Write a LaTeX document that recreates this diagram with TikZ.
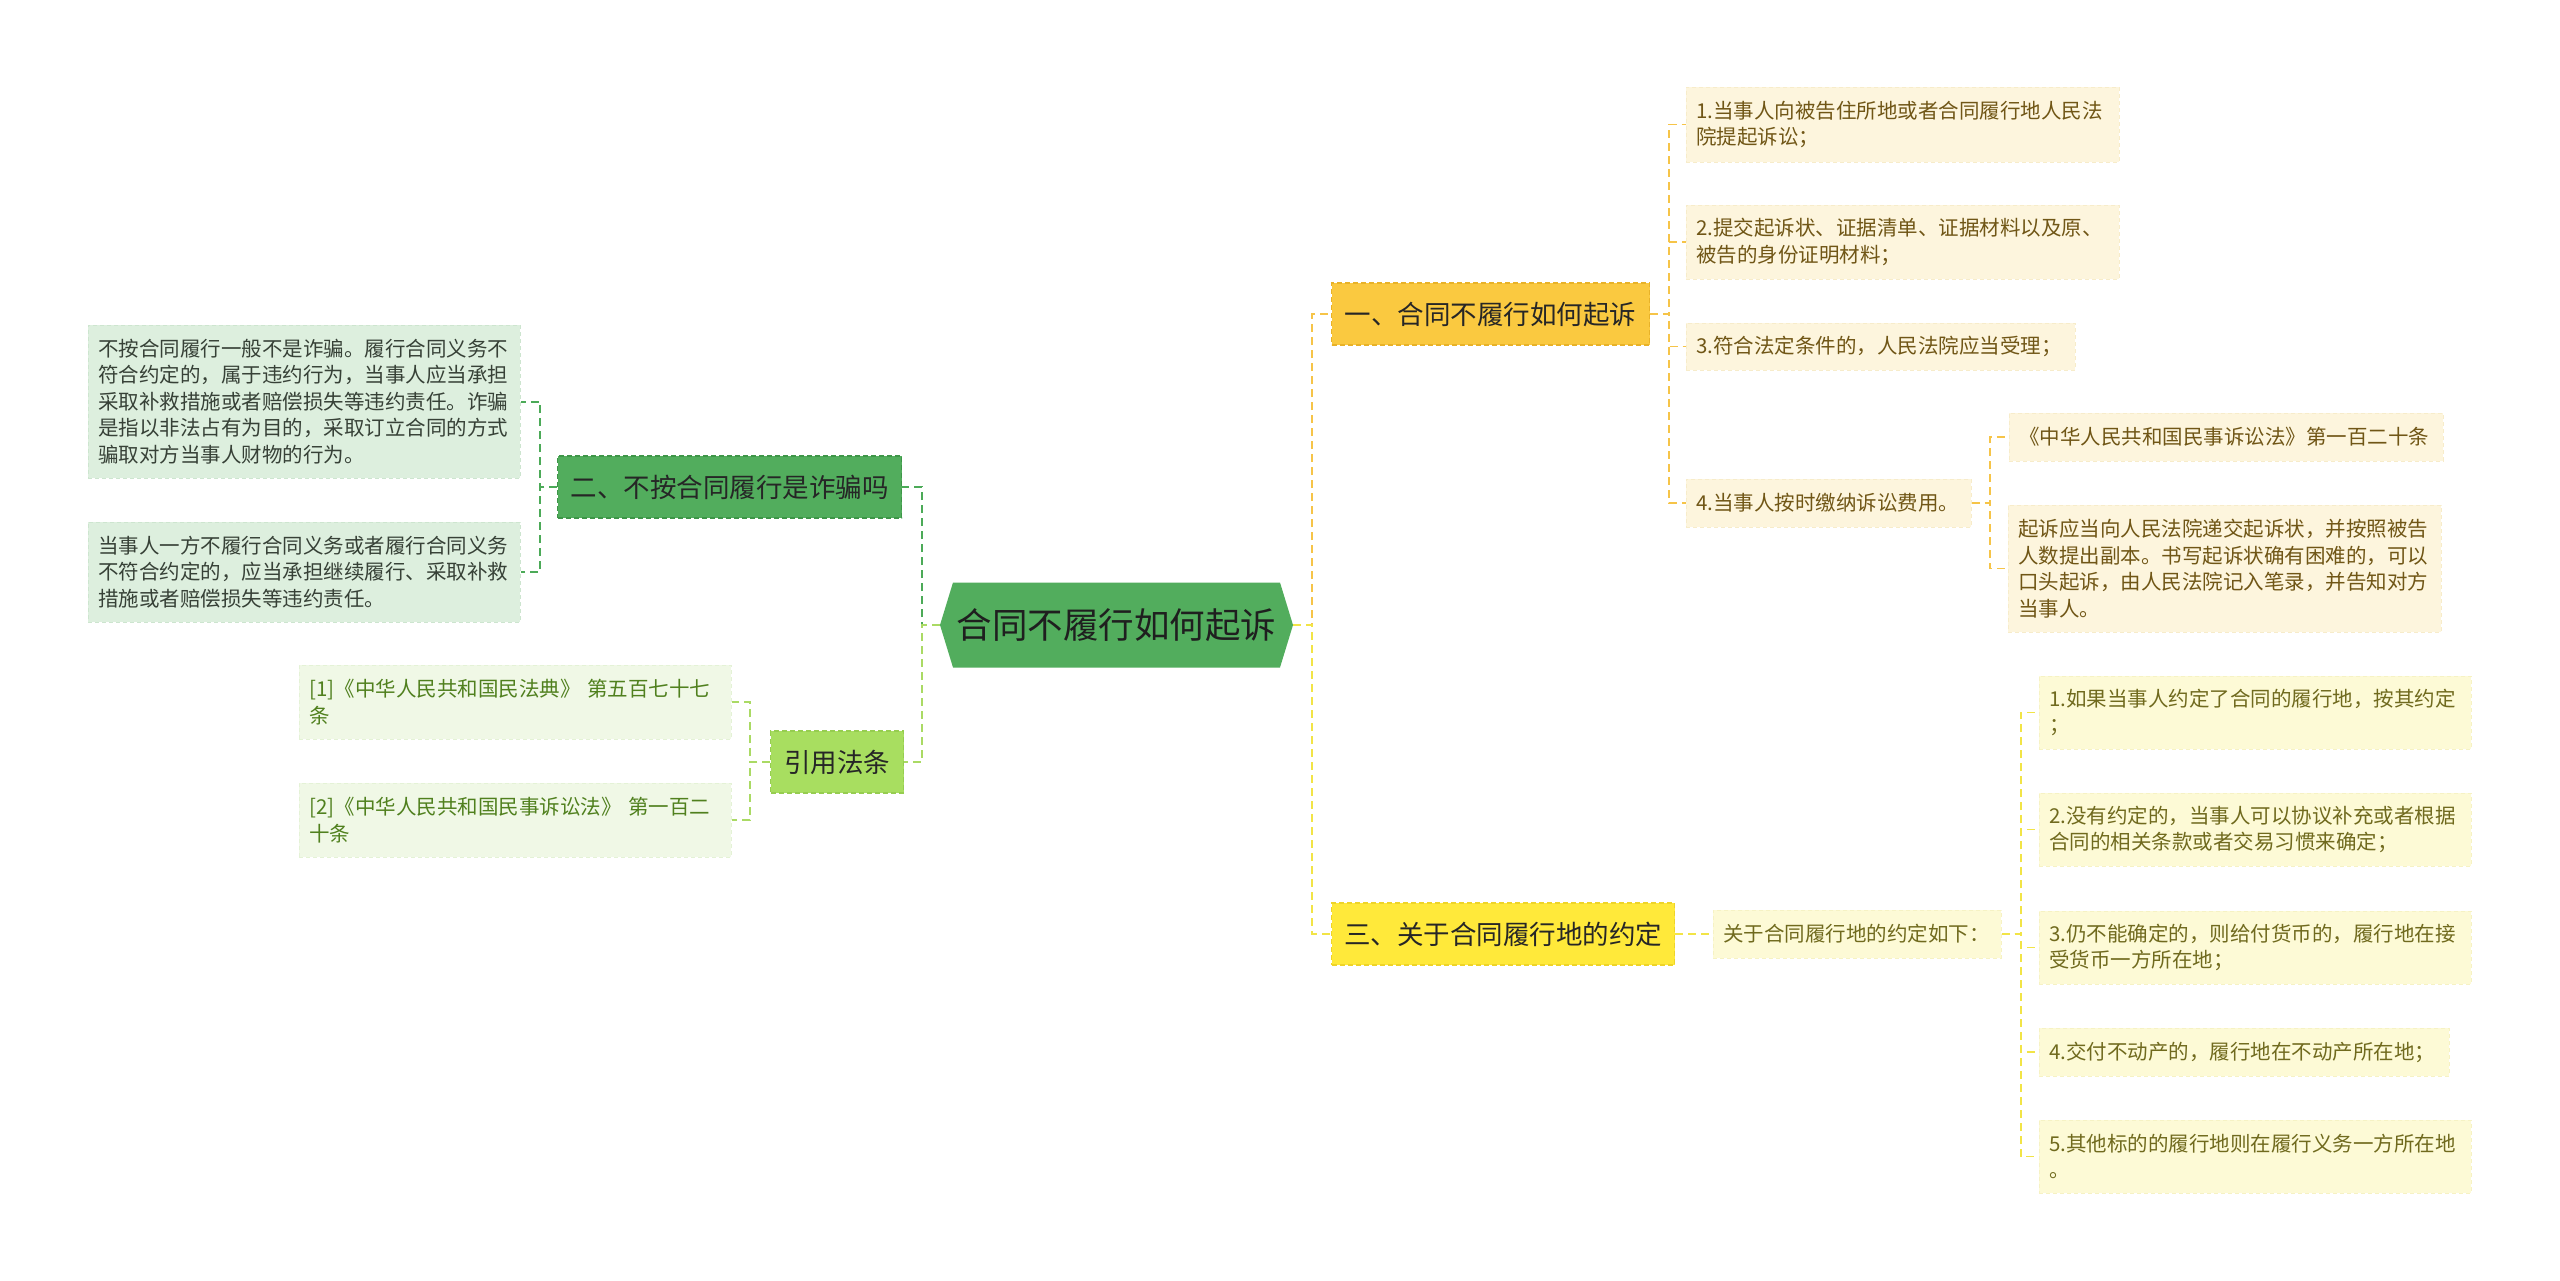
\documentclass[tikz,border=0pt]{standalone}
\usepackage{fontspec}
\setmainfont{Noto Sans CJK SC}
\usetikzlibrary{calc}
\definecolor{cgreen}{RGB}{82,173,93}
\definecolor{cgreenD}{RGB}{62,150,72}
\definecolor{lgF}{RGB}{221,239,222}
\definecolor{lgD}{RGB}{205,229,207}
\definecolor{lgT}{RGB}{55,65,55}
\definecolor{limeF}{RGB}{168,222,96}
\definecolor{limeD}{RGB}{150,205,80}
\definecolor{limeL}{RGB}{240,248,230}
\definecolor{limeLD}{RGB}{228,242,214}
\definecolor{limeT}{RGB}{80,128,30}
\definecolor{orF}{RGB}{250,201,64}
\definecolor{orD}{RGB}{232,178,40}
\definecolor{crF}{RGB}{253,245,221}
\definecolor{crD}{RGB}{247,236,202}
\definecolor{brT}{RGB}{112,86,22}
\definecolor{yeF}{RGB}{255,233,58}
\definecolor{yeD}{RGB}{238,212,40}
\definecolor{ylF}{RGB}{253,250,214}
\definecolor{ylD}{RGB}{246,242,196}
\definecolor{olT}{RGB}{112,106,30}
\definecolor{lnG}{RGB}{76,170,88}
\definecolor{lnL}{RGB}{170,218,100}
\definecolor{lnO}{RGB}{246,196,72}
\definecolor{lnY}{RGB}{242,228,70}
\tikzset{
  leaf/.style={anchor=west, align=left, inner xsep=10pt, inner ysep=0pt,
    font=\fontsize{20.5}{26.5}\selectfont, line width=0.8pt, dash pattern=on 4pt off 3pt},
  leafG/.style={leaf, fill=lgF, draw=lgD, text=lgT},
  leafL/.style={leaf, fill=limeL, draw=limeLD, text=limeT},
  leafC/.style={leaf, fill=crF, draw=crD, text=brT},
  leafY/.style={leaf, fill=ylF, draw=ylD, text=olT},
  topic/.style={anchor=west, align=center, inner sep=0pt, minimum height=62pt,
    font=\fontsize{26.5}{32}\selectfont, text=black!85, line width=1.2pt, dash pattern=on 5pt off 3pt},
  con/.style={line width=2pt, dash pattern=on 8pt off 5pt},
  conG/.style={con, draw=lnG},
  conL/.style={con, draw=lnL},
  conO/.style={con, draw=lnO},
  conY/.style={con, draw=lnY, line width=1.7pt},
}
\begin{document}
\begin{tikzpicture}[x=1pt,y=-1pt]
\useasboundingbox[fill=white] (0,0) rectangle (2560,1281);

% central node
\node[inner sep=0pt, minimum width=353pt, minimum height=85pt,
  font=\fontsize{35.5}{40}\selectfont, text=black!88,
  path picture={\fill[cgreen] (path picture bounding box.west)
     -- ([xshift=13pt]path picture bounding box.north west)
     -- ([xshift=-13pt]path picture bounding box.north east)
     -- (path picture bounding box.east)
     -- ([xshift=-13pt]path picture bounding box.south east)
     -- ([xshift=13pt]path picture bounding box.south west) -- cycle;}]
  (c) at (1116.5,625) {合同不履行如何起诉};

% left branch
\node[topic, minimum width=344pt, fill=cgreen, draw=cgreenD] (n2) at (557,487) {二、不按合同履行是诈骗吗};
\node[leafG, text width=412pt, minimum height=153pt] (la) at (88,401.5)
  {不按合同履行一般不是诈骗。履行合同义务不\\符合约定的，属于违约行为，当事人应当承担\\采取补救措施或者赔偿损失等违约责任。诈骗\\是指以非法占有为目的，采取订立合同的方式\\骗取对方当事人财物的行为。};
\node[leafG, text width=412pt, minimum height=100pt] (lb) at (88,572)
  {当事人一方不履行合同义务或者履行合同义务\\不符合约定的，应当承担继续履行、采取补救\\措施或者赔偿损失等违约责任。};

\node[topic, minimum width=133pt, fill=limeF, draw=limeD] (cite) at (770,762) {引用法条};
\node[leafL, text width=412pt, minimum height=74pt] (c1) at (299,702)
  {[1]《中华人民共和国民法典》 第五百七十七\\条};
\node[leafL, text width=412pt, minimum height=74pt] (c2) at (299,820)
  {[2]《中华人民共和国民事诉讼法》 第一百二\\十条};

% right upper branch
\node[topic, minimum width=318pt, fill=orF, draw=orD] (n1) at (1331,314) {一、合同不履行如何起诉};
\node[leafC, text width=413pt, minimum height=75pt] (r1) at (1686,124.5)
  {1.当事人向被告住所地或者合同履行地人民法\\院提起诉讼；};
\node[leafC, text width=413pt, minimum height=74pt] (r2) at (1686,242)
  {2.提交起诉状、证据清单、证据材料以及原、\\被告的身份证明材料；};
\node[leafC, text width=369pt, minimum height=47pt] (r3) at (1686,346.5)
  {3.符合法定条件的，人民法院应当受理；};
\node[leafC, text width=265pt, minimum height=48pt] (r4) at (1686,503)
  {4.当事人按时缴纳诉讼费用。};
\node[leafC, text width=414pt, minimum height=48pt] (law) at (2009,437)
  {《中华人民共和国民事诉讼法》第一百二十条};
\node[leafC, text width=413pt, minimum height=127pt] (exp) at (2008,568.5)
  {起诉应当向人民法院递交起诉状，并按照被告\\人数提出副本。书写起诉状确有困难的，可以\\口头起诉，由人民法院记入笔录，并告知对方\\当事人。};

% right lower branch
\node[topic, minimum width=343pt, fill=yeF, draw=yeD] (n3) at (1331,934) {三、关于合同履行地的约定};
\node[leafY, text width=268pt, minimum height=48pt] (sub) at (1713,934)
  {关于合同履行地的约定如下：};
\node[leafY, text width=412pt, minimum height=73pt] (y1) at (2039,712.5)
  {1.如果当事人约定了合同的履行地，按其约定\\；};
\node[leafY, text width=412pt, minimum height=73pt] (y2) at (2039,829.5)
  {2.没有约定的，当事人可以协议补充或者根据\\合同的相关条款或者交易习惯来确定；};
\node[leafY, text width=412pt, minimum height=73pt] (y3) at (2039,947.5)
  {3.仍不能确定的，则给付货币的，履行地在接\\受货币一方所在地；};
\node[leafY, text width=390pt, minimum height=48pt] (y4) at (2039,1052)
  {4.交付不动产的，履行地在不动产所在地；};
\node[leafY, text width=412pt, minimum height=73pt] (y5) at (2039,1156.5)
  {5.其他标的的履行地则在履行义务一方所在地\\。};

% connectors
\draw[conG] (c.west) -- ++(-18,0) |- (n2.east);
\draw[conL] (c.west) -- ++(-18,0) |- (cite.east);
\draw[conG] (n2.west) -- ++(-17,0) |- (la.east);
\draw[conG] (n2.west) -- ++(-17,0) |- (lb.east);
\draw[conL] (cite.west) -- ++(-20,0) |- (c1.east);
\draw[conL] (cite.west) -- ++(-20,0) |- (c2.east);

\draw[conO] (c.east) -- ++(19,0) |- (n1.west);
\draw[conY] (c.east) -- ++(19,0) |- (n3.west);
\foreach \t in {r1,r2,r3,r4} \draw[conO, line width=1.5pt] (n1.east) -- ++(19,0) |- (\t.west);
\foreach \t in {law,exp} \draw[conO, line width=1.5pt] (r4.east) -- ++(18,0) |- (\t.west);
\draw[conY] (n3.east) -- (sub.west);
\foreach \t in {y1,y2,y3,y4,y5} \draw[conY, line width=1.5pt] (sub.east) -- ++(19,0) |- (\t.west);
\end{tikzpicture}
\end{document}
